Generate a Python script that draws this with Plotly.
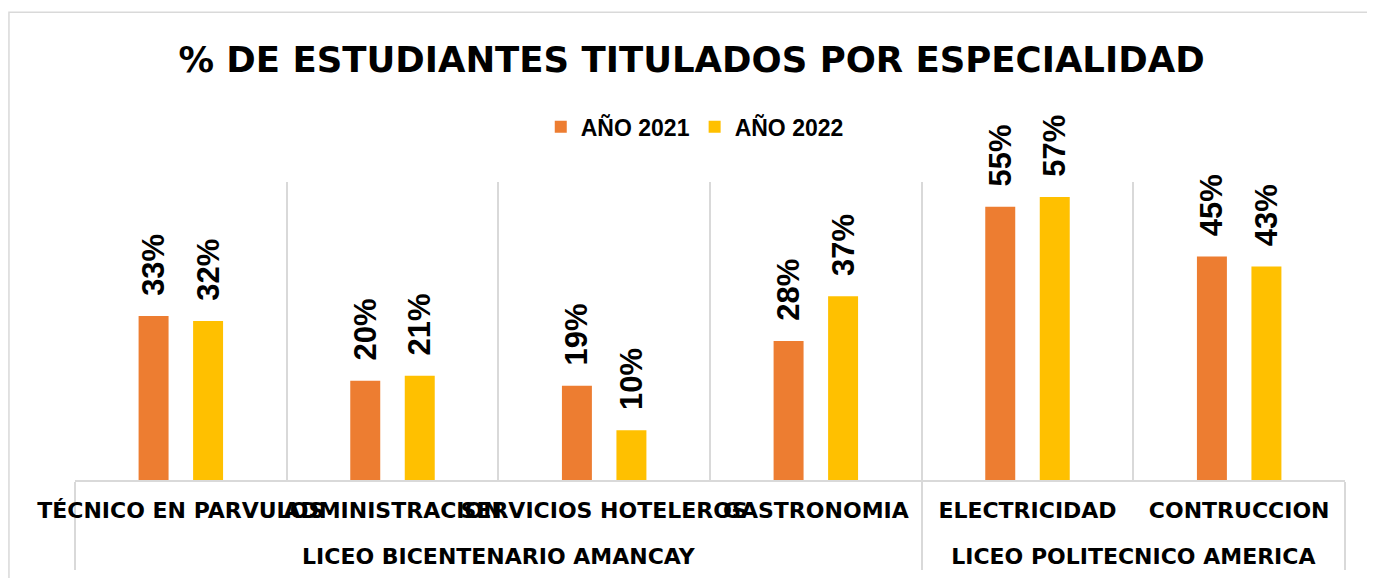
import plotly.graph_objects as go

groups = ["LICEO BICENTENARIO AMANCAY"] * 4 + ["LICEO POLITECNICO AMERICA"] * 2
categories = ["TÉCNICO EN PARVULOS", "ADMINISTRACION", "SERVICIOS HOTELEROS",
              "GASTRONOMIA", "ELECTRICIDAD", "CONTRUCCION"]
values_2021 = [33, 20, 19, 28, 55, 45]
values_2022 = [32, 21, 10, 37, 57, 43]
series_names = ["AÑO 2021", "AÑO 2022"]
colors = ["#ED7D31", "#FFC000"]

label_font = dict(family="Liberation Sans", size=31, color="black", weight="bold")

# leading line break pushes the group row down like the reference
group_labels = ["<br>" + g for g in groups]

fig = go.Figure()
for name, vals, col in zip(series_names, [values_2021, values_2022], colors):
    fig.add_trace(go.Bar(
        x=[group_labels, categories], y=vals, name=name,
        marker=dict(color=col, line=dict(width=0)),
        texttemplate="\u00a0\u00a0%{y}%", textposition="outside", textangle=-90,
        textfont=label_font, constraintext="none", cliponaxis=False,
    ))

fig.update_layout(
    width=1367, height=570,
    margin=dict(l=67, r=30, t=174, b=98, autoexpand=False),
    paper_bgcolor="white", plot_bgcolor="white",
    barmode="group", bargap=0.485, bargroupgap=0.45,
    title=dict(text="% DE ESTUDIANTES TITULADOS POR ESPECIALIDAD",
               font=dict(family="DejaVu Sans", size=35.5, color="black", weight="bold"),
               x=0.5, xanchor="center", y=0.909, yanchor="middle"),
    legend=dict(orientation="h", x=0.488, xanchor="center", y=1.185, yanchor="middle",
                font=dict(family="Liberation Sans", size=23, color="black", weight="bold"),
                itemwidth=30, traceorder="normal"),
    showlegend=True,
)
fig.update_xaxes(
    type="multicategory", automargin=False, tickangle=0, ticklabelstandoff=10,
    showgrid=True, gridcolor="#D9D9D9", gridwidth=1.5,
    showline=True, linecolor="#D9D9D9", linewidth=1.5,
    showdividers=True, dividercolor="#D9D9D9", dividerwidth=1.5,
    ticks="", tickfont=dict(family="DejaVu Sans", size=22, color="black", weight="bold"),
)
fig.update_yaxes(range=[0, 60], visible=False, showgrid=False, automargin=False)

fig.add_shape(type="rect", xref="paper", yref="paper",
              x0=-0.052, x1=1.022, y0=-0.4, y1=1.570,
              line=dict(color="#D9D9D9", width=1.5), fillcolor="rgba(0,0,0,0)", layer="below")

fig.write_html("out.html")
